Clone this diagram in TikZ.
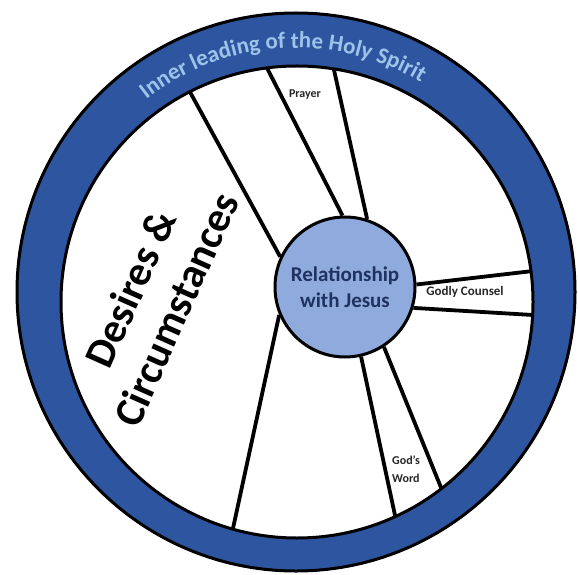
\documentclass[tikz,border=0pt]{standalone}
\usepackage{fontspec}
\setmainfont{Carlito}
\usepackage{tikz}
\usetikzlibrary{decorations.text, backgrounds}
\definecolor{wheelblue}{RGB}{45, 85, 160}
\definecolor{spiritblue}{RGB}{157, 195, 232}
\definecolor{hubblue}{RGB}{143, 170, 220}
\definecolor{hubtext}{RGB}{31, 50, 96}

\begin{document}
\begin{tikzpicture}[x=1pt, y=1pt,
        spoke/.style={line width=3.8pt, black, shorten >=-8pt},
        smalllabel/.style={font=\bfseries\fontsize{12}{18}\selectfont, text=black!85, inner sep=0pt},
        biglabel/.style={font=\bfseries\fontsize{42}{50}\selectfont, align=center, inner sep=0pt},
        hub/.style={circle, draw=black, line width=3pt, fill=hubblue, minimum size=140pt, inner sep=0pt,
            align=center, text=hubtext, font=\bfseries\fontsize{21}{26}\selectfont}]
        \useasboundingbox (0,0) rectangle (578,574);

        % Wheel centres and rim points
        \coordinate (wheel) at (296,282);
        \coordinate (rim) at (297,272);
        \coordinate (r1) at (190,482);
        \coordinate (r2) at (267,506);
        \coordinate (r3) at (334,504);
        \coordinate (r4) at (533,303);
        \coordinate (r5) at (533,259);
        \coordinate (r6) at (442,84);
        \coordinate (r7) at (396,54);
        \coordinate (r8) at (232,41);

        % Hub
        \node[hub] (hub) at (345,287) {Relationship\\with Jesus};

        % Spokes
        \begin{scope}[on background layer]
            \draw[spoke] (hub.155) -- (r1);
            \draw[spoke] (hub.92) -- (r2);
            \draw[spoke] (hub.72) -- (r3);
            \draw[spoke] (hub.2) -- (r4);
            \draw[spoke] (hub.-17) -- (r5);
            \draw[spoke] (hub.-57) -- (r6);
            \draw[spoke] (hub.-77) -- (r7);
            \draw[spoke] (hub.203) -- (r8);
        \end{scope}

        % Outer ring
        \fill[wheelblue, even odd rule] (wheel) circle (280) (rim) circle (236);
        \draw[line width=3pt] (wheel) circle (279);
        \draw[line width=3pt] (rim) circle (236);
        \path[decorate, decoration={text along path, text align=center, text color=spiritblue,
            text={|\bfseries\fontsize{23}{23}\selectfont|Inner leading of the Holy Spirit}}]
            (wheel) ++(150:244) arc[start angle=150, end angle=37, radius=244];

        % Section labels
        \node[smalllabel] (prayer) at (305,479) {Prayer};
        \node[smalllabel, font=\bfseries\fontsize{13}{16}\selectfont] (counsel) at (465,282) {Godly Counsel};
        \node[smalllabel, anchor=west, align=left] (word) at (392,105) {God’s\\Word};
        \node[biglabel, rotate=66] (desires) at (153,275) {Desires \&\\Circumstances};
    \end{tikzpicture}
\end{document}
